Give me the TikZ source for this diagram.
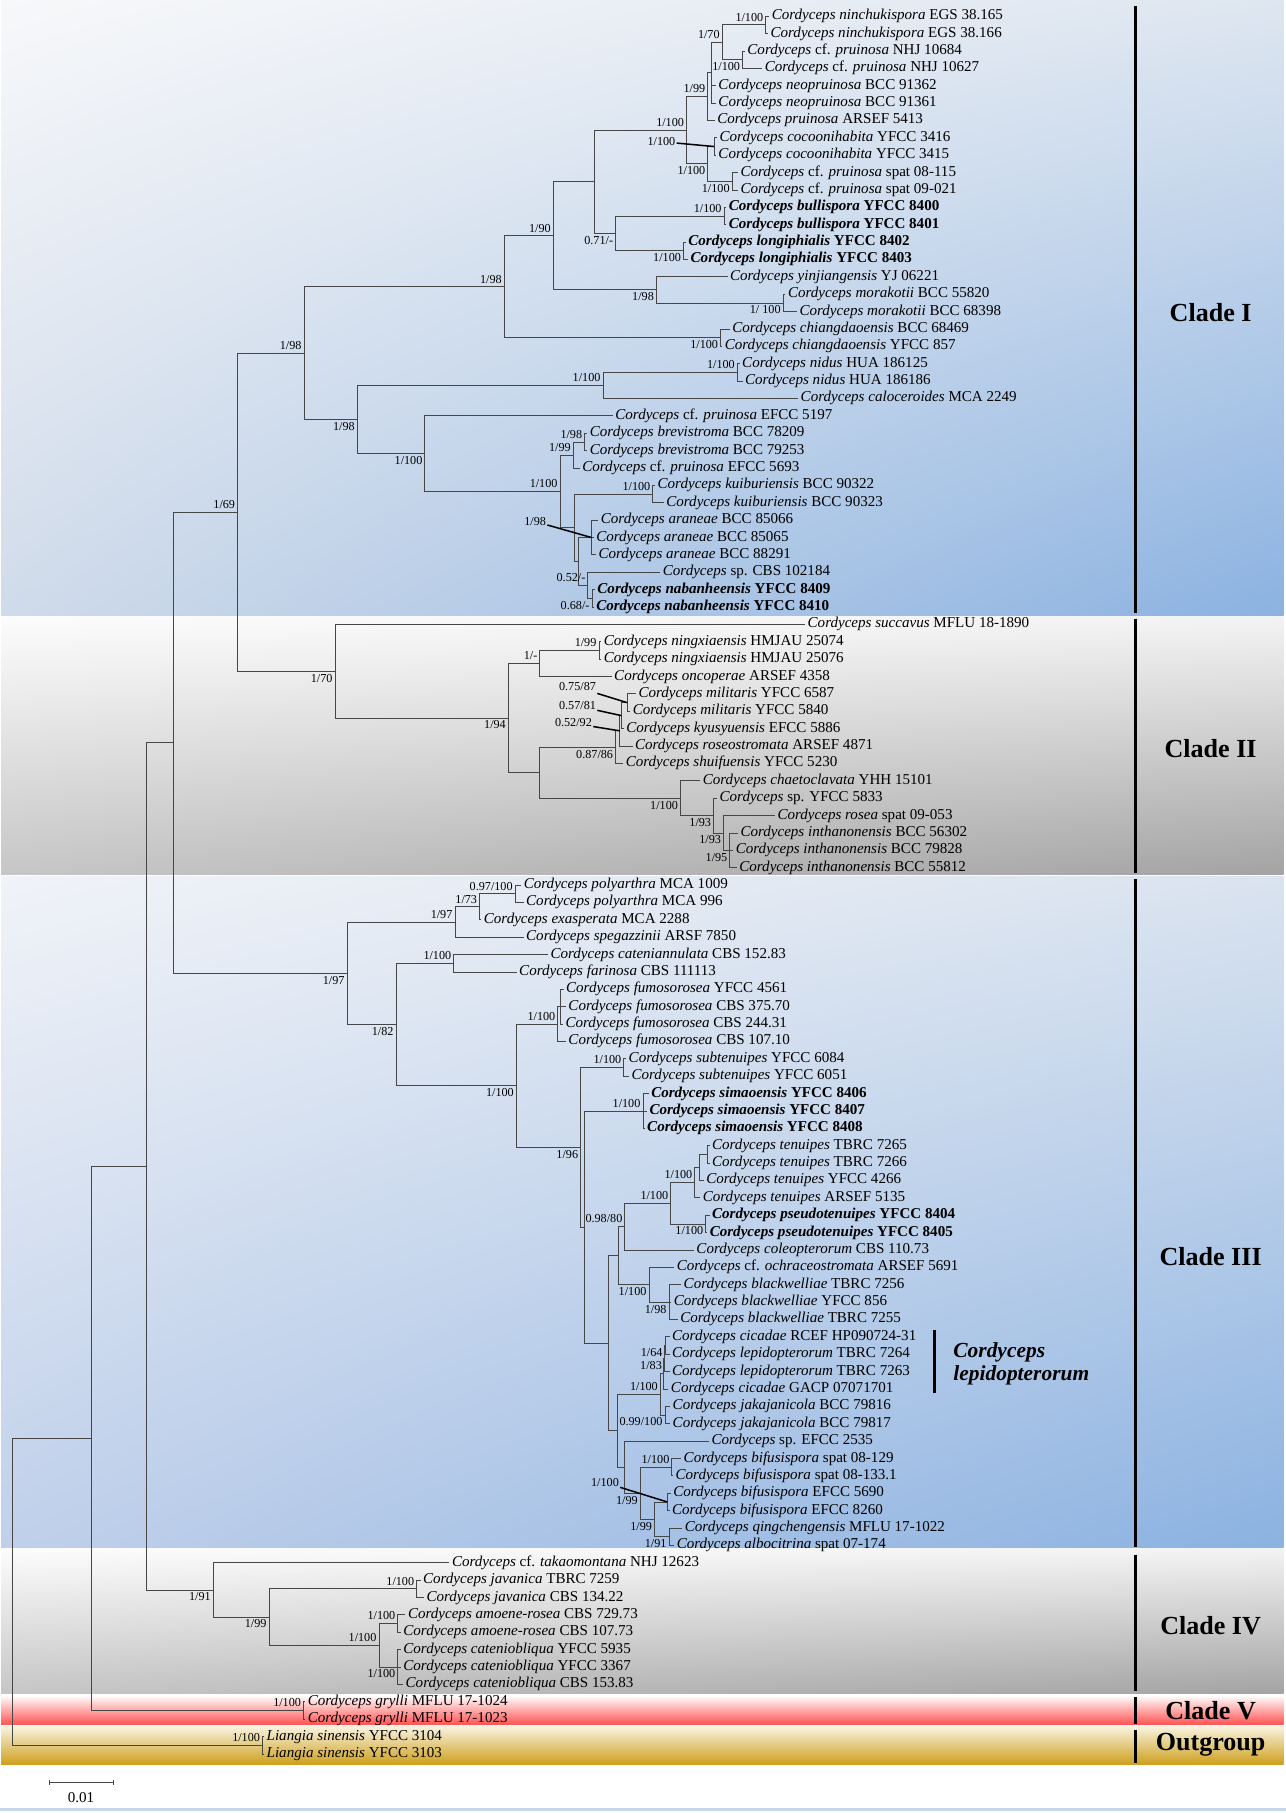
\documentclass[tikz,border=0pt]{standalone}
\usepackage{fontspec}
\setmainfont{Liberation Serif}
\usepackage{tikz}
\usetikzlibrary{calc,shadings}
\definecolor{brgray}{RGB}{70,70,70}
\definecolor{cIul}{RGB}{247,248,250}
\definecolor{cIur}{RGB}{222,230,240}
\definecolor{cIll}{RGB}{208,219,234}
\definecolor{cIlr}{RGB}{139,178,225}
\definecolor{cIIIul}{RGB}{240,243,248}
\definecolor{cIIIur}{RGB}{218,227,239}
\definecolor{cIIIll}{RGB}{192,208,234}
\definecolor{cIIIlr}{RGB}{139,178,225}
\definecolor{grayul}{RGB}{252,252,252}
\definecolor{grayur}{RGB}{243,243,243}
\definecolor{grayll}{RGB}{198,198,198}
\definecolor{graylr}{RGB}{163,163,163}
\definecolor{redBot}{RGB}{255,80,80}
\definecolor{goldTop}{RGB}{248,242,222}
\definecolor{goldBot}{RGB}{206,160,30}
\definecolor{rulecol}{RGB}{200,214,234}
\tikzstyle{branch} = [line width=0.75pt, color=brgray]
\tikzstyle{pointer} = [line width=1.3pt, color=black]
\tikzstyle{taxon} = [anchor=west, inner xsep=2pt, inner ysep=0pt, text height=9pt, text depth=3pt, font=\fontsize{13}{13}\selectfont]
\tikzstyle{supval} = [inner sep=1pt, text height=7.2pt, text depth=1pt, font=\fontsize{10.5}{10.5}\selectfont]
\tikzstyle{supa} = [supval, anchor=south east, xshift=-1pt, yshift=1pt]
\tikzstyle{supb} = [supval, anchor=north east, xshift=-1pt, yshift=-1pt]
\tikzstyle{cladebar} = [line width=2.6pt, color=black]
\tikzstyle{cladename} = [font=\fontsize{22.5}{22.5}\selectfont\bfseries]
% internal node: name, x, first child, last child
\newcommand{\inode}[4]{\path let \p1=(#3), \p2=(#4) in coordinate (#1) at (#2pt,{0.5*\y1+0.5*\y2});}

\begin{document}
\begin{tikzpicture}[x=1pt, y=-1pt]
\useasboundingbox (0,0) rectangle (1110,1565);
\fill[white] (0,0) rectangle (1110,1565);

% Clade backgrounds
\shade[upper left=cIul, upper right=cIur, lower left=cIll, lower right=cIlr] (1,0) rectangle (1108,531);
\shade[upper left=grayul, upper right=grayur, lower left=grayll, lower right=graylr] (1,532.5) rectangle (1108,755);
\shade[upper left=cIIIul, upper right=cIIIur, lower left=cIIIll, lower right=cIIIlr] (1,756.5) rectangle (1108,1335.5);
\shade[upper left=grayul, upper right=grayur, lower left=grayll, lower right=graylr] (1,1337) rectangle (1108,1462);
\shade[top color=white, bottom color=redBot] (1,1463.5) rectangle (1108,1489);
\shade[top color=goldTop, bottom color=goldBot] (1,1490.5) rectangle (1108,1523);
\fill[rulecol] (0,1561) rectangle (1110,1563.5);

% Clade bars and names
\draw[cladebar] (980,5) -- (980,529);
\draw[cladebar] (980,534) -- (980,754);
\draw[cladebar] (980,759) -- (980,1335);
\draw[cladebar] (980,1342) -- (980,1460);
\draw[cladebar] (980,1465) -- (980,1488);
\draw[cladebar] (980,1493) -- (980,1522);
\node[cladename] (cI) at (1045,270) {Clade I};
\node[cladename] (cII) at (1045,646) {Clade II};
\node[cladename] (cIII) at (1045,1085) {Clade III};
\node[cladename] (cIV) at (1045,1403) {Clade IV};
\node[cladename] (cV) at (1045,1477) {Clade V};
\node[cladename] (cout) at (1045,1506) {Outgroup};

% Cordyceps lepidopterorum group
\draw[cladebar] (806.4,1148) -- (806.4,1202.6);
\node[anchor=west, align=left, inner sep=0pt, font=\fontsize{18.5}{20}\selectfont\bfseries\itshape] (lepi) at (822.8,1177) {Cordyceps\\lepidopterorum};

% Clade I taxa
\node[taxon] (l1) at (664,14) {\textit{Cordyceps ninchukispora} EGS 38.165};
\node[taxon] (l2) at (663,29) {\textit{Cordyceps ninchukispora} EGS 38.166};
\node[taxon] (l3) at (643,44) {\textit{Cordyceps} cf. \textit{pruinosa} NHJ 10684};
\node[taxon] (l4) at (658,59) {\textit{Cordyceps} cf. \textit{pruinosa} NHJ 10627};
\node[taxon] (l5) at (618,74) {\textit{Cordyceps neopruinosa} BCC 91362};
\node[taxon] (l6) at (618,89) {\textit{Cordyceps neopruinosa} BCC 91361};
\node[taxon] (l7) at (617,104) {\textit{Cordyceps pruinosa} ARSEF 5413};
\node[taxon] (l8) at (619,119) {\textit{Cordyceps cocoonihabita} YFCC 3416};
\node[taxon] (l9) at (618,134) {\textit{Cordyceps cocoonihabita} YFCC 3415};
\node[taxon] (l10) at (637,149) {\textit{Cordyceps} cf. \textit{pruinosa} spat 08-115};
\node[taxon] (l11) at (637,164) {\textit{Cordyceps} cf. \textit{pruinosa} spat 09-021};
\node[taxon] (l12) at (627,179) {\bfseries\textit{Cordyceps bullispora} YFCC 8400};
\node[taxon] (l13) at (627,194) {\bfseries\textit{Cordyceps bullispora} YFCC 8401};
\node[taxon] (l14) at (592,209) {\bfseries\textit{Cordyceps longiphialis} YFCC 8402};
\node[taxon] (l15) at (594,224) {\bfseries\textit{Cordyceps longiphialis} YFCC 8403};
\node[taxon] (l16) at (628,239) {\textit{Cordyceps yinjiangensis} YJ 06221};
\node[taxon] (l17) at (678,254) {\textit{Cordyceps morakotii} BCC 55820};
\node[taxon] (l18) at (688,269) {\textit{Cordyceps morakotii} BCC 68398};
\node[taxon] (l19) at (630,284) {\textit{Cordyceps chiangdaoensis} BCC 68469};
\node[taxon] (l20) at (623.5,299) {\textit{Cordyceps chiangdaoensis} YFCC 857};
\node[taxon] (l21) at (638.5,314) {\textit{Cordyceps nidus} HUA 186125};
\node[taxon] (l22) at (641,329) {\textit{Cordyceps nidus} HUA 186186};
\node[taxon] (l23) at (689,344) {\textit{Cordyceps caloceroides} MCA 2249};
\node[taxon] (l24) at (529,359) {\textit{Cordyceps} cf. \textit{pruinosa} EFCC 5197};
\node[taxon] (l25) at (507,374) {\textit{Cordyceps brevistroma} BCC 78209};
\node[taxon] (l26) at (507,389) {\textit{Cordyceps brevistroma} BCC 79253};
\node[taxon] (l27) at (500.5,404) {\textit{Cordyceps} cf. \textit{pruinosa} EFCC 5693};
\node[taxon] (l28) at (565.5,419) {\textit{Cordyceps kuiburiensis} BCC 90322};
\node[taxon] (l29) at (573,434) {\textit{Cordyceps kuiburiensis} BCC 90323};
\node[taxon] (l30) at (516.5,449) {\textit{Cordyceps araneae} BCC 85066};
\node[taxon] (l31) at (512.5,464) {\textit{Cordyceps araneae} BCC 85065};
\node[taxon] (l32) at (514.5,479) {\textit{Cordyceps araneae} BCC 88291};
\node[taxon] (l33) at (570,494) {\textit{Cordyceps} sp. CBS 102184};
\node[taxon] (l34) at (513.5,509) {\bfseries\textit{Cordyceps nabanheensis} YFCC 8409};
\node[taxon] (l35) at (512.5,524) {\bfseries\textit{Cordyceps nabanheensis} YFCC 8410};

% Clade II taxa
\node[taxon] (l36) at (695,539) {\textit{Cordyceps succavus} MFLU 18-1890};
\node[taxon] (l37) at (519,554) {\textit{Cordyceps ningxiaensis} HMJAU 25074};
\node[taxon] (l38) at (519,569) {\textit{Cordyceps ningxiaensis} HMJAU 25076};
\node[taxon] (l39) at (528,584) {\textit{Cordyceps oncoperae} ARSEF 4358};
\node[taxon] (l40) at (549,599) {\textit{Cordyceps militaris} YFCC 6587};
\node[taxon] (l41) at (544,614) {\textit{Cordyceps militaris} YFCC 5840};
\node[taxon] (l42) at (538.5,629) {\textit{Cordyceps kyusyuensis} EFCC 5886};
\node[taxon] (l43) at (546,644) {\textit{Cordyceps roseostromata} ARSEF 4871};
\node[taxon] (l44) at (538,659) {\textit{Cordyceps shuifuensis} YFCC 5230};
\node[taxon] (l45) at (604.5,674) {\textit{Cordyceps chaetoclavata} YHH 15101};
\node[taxon] (l46) at (619,689) {\textit{Cordyceps} sp. YFCC 5833};
\node[taxon] (l47) at (669,704) {\textit{Cordyceps rosea} spat 09-053};
\node[taxon] (l48) at (637,719) {\textit{Cordyceps inthanonensis} BCC 56302};
\node[taxon] (l49) at (633,734) {\textit{Cordyceps inthanonensis} BCC 79828};
\node[taxon] (l50) at (636,749) {\textit{Cordyceps inthanonensis} BCC 55812};

% Clade III taxa
\node[taxon] (l51) at (450,764) {\textit{Cordyceps polyarthra} MCA 1009};
\node[taxon] (l52) at (452,779) {\textit{Cordyceps polyarthra} MCA 996};
\node[taxon] (l53) at (415.5,794) {\textit{Cordyceps exasperata} MCA 2288};
\node[taxon] (l54) at (452,809) {\textit{Cordyceps spegazzinii} ARSF 7850};
\node[taxon] (l55) at (473,824) {\textit{Cordyceps cateniannulata} CBS 152.83};
\node[taxon] (l56) at (446,839) {\textit{Cordyceps farinosa} CBS 111113};
\node[taxon] (l57) at (486.5,854) {\textit{Cordyceps fumosorosea} YFCC 4561};
\node[taxon] (l58) at (488.5,869) {\textit{Cordyceps fumosorosea} CBS 375.70};
\node[taxon] (l59) at (486,884) {\textit{Cordyceps fumosorosea} CBS 244.31};
\node[taxon] (l60) at (488.5,899) {\textit{Cordyceps fumosorosea} CBS 107.10};
\node[taxon] (l61) at (540.5,914) {\textit{Cordyceps subtenuipes} YFCC 6084};
\node[taxon] (l62) at (543,929) {\textit{Cordyceps subtenuipes} YFCC 6051};
\node[taxon] (l63) at (560,944) {\bfseries\textit{Cordyceps simaoensis} YFCC 8406};
\node[taxon] (l64) at (558.5,959) {\bfseries\textit{Cordyceps simaoensis} YFCC 8407};
\node[taxon] (l65) at (556.5,974) {\bfseries\textit{Cordyceps simaoensis} YFCC 8408};
\node[taxon] (l66) at (612.5,989) {\textit{Cordyceps tenuipes} TBRC 7265};
\node[taxon] (l67) at (612.5,1004) {\textit{Cordyceps tenuipes} TBRC 7266};
\node[taxon] (l68) at (607.5,1019) {\textit{Cordyceps tenuipes} YFCC 4266};
\node[taxon] (l69) at (604.5,1034) {\textit{Cordyceps tenuipes} ARSEF 5135};
\node[taxon] (l70) at (612.5,1049) {\bfseries\textit{Cordyceps pseudotenuipes} YFCC 8404};
\node[taxon] (l71) at (610.5,1064) {\bfseries\textit{Cordyceps pseudotenuipes} YFCC 8405};
\node[taxon] (l72) at (599,1079) {\textit{Cordyceps coleopterorum} CBS 110.73};
\node[taxon] (l73) at (582,1094) {\textit{Cordyceps} cf. \textit{ochraceostromata} ARSEF 5691};
\node[taxon] (l74) at (588,1109) {\textit{Cordyceps blackwelliae} TBRC 7256};
\node[taxon] (l75) at (579.5,1124) {\textit{Cordyceps blackwelliae} YFCC 856};
\node[taxon] (l76) at (585,1139) {\textit{Cordyceps blackwelliae} TBRC 7255};
\node[taxon] (l77) at (578,1154) {\textit{Cordyceps cicadae} RCEF HP090724-31};
\node[taxon] (l78) at (578,1169) {\textit{Cordyceps lepidopterorum} TBRC 7264};
\node[taxon] (l79) at (578,1184) {\textit{Cordyceps lepidopterorum} TBRC 7263};
\node[taxon] (l80) at (577,1199) {\textit{Cordyceps cicadae} GACP 07071701};
\node[taxon] (l81) at (578.5,1214) {\textit{Cordyceps jakajanicola} BCC 79816};
\node[taxon] (l82) at (578.5,1229) {\textit{Cordyceps jakajanicola} BCC 79817};
\node[taxon] (l83) at (612,1244) {\textit{Cordyceps} sp. EFCC 2535};
\node[taxon] (l84) at (588,1259) {\textit{Cordyceps bifusispora} spat 08-129};
\node[taxon] (l85) at (581,1274) {\textit{Cordyceps bifusispora} spat 08-133.1};
\node[taxon] (l86) at (579,1289) {\textit{Cordyceps bifusispora} EFCC 5690};
\node[taxon] (l87) at (578,1304) {\textit{Cordyceps bifusispora} EFCC 8260};
\node[taxon] (l88) at (589,1319) {\textit{Cordyceps qingchengensis} MFLU 17-1022};
\node[taxon] (l89) at (582,1334) {\textit{Cordyceps albocitrina} spat 07-174};

% Clade IV, Clade V and outgroup taxa
\node[taxon] (l90) at (388,1349) {\textit{Cordyceps} cf. \textit{takaomontana} NHJ 12623};
\node[taxon] (l91) at (363,1364) {\textit{Cordyceps javanica} TBRC 7259};
\node[taxon] (l92) at (366,1379) {\textit{Cordyceps javanica} CBS 134.22};
\node[taxon] (l93) at (350,1394) {\textit{Cordyceps amoene-rosea} CBS 729.73};
\node[taxon] (l94) at (346,1409) {\textit{Cordyceps amoene-rosea} CBS 107.73};
\node[taxon] (l95) at (346,1424) {\textit{Cordyceps cateniobliqua} YFCC 5935};
\node[taxon] (l96) at (346,1439) {\textit{Cordyceps cateniobliqua} YFCC 3367};
\node[taxon] (l97) at (348,1454) {\textit{Cordyceps cateniobliqua} CBS 153.83};
\node[taxon] (l98) at (263.5,1469) {\textit{Cordyceps grylli} MFLU 17-1024};
\node[taxon] (l99) at (263.5,1484) {\textit{Cordyceps grylli} MFLU 17-1023};
\node[taxon] (l100) at (228,1499) {\textit{Liangia sinensis} YFCC 3104};
\node[taxon] (l101) at (228,1514) {\textit{Liangia sinensis} YFCC 3103};

% Internal nodes, Clade I
\inode{n1}{661}{l1}{l2}
\inode{n2}{641}{l3}{l4}
\inode{n3}{623.4}{n1}{n2}
\inode{n4a}{614}{n3}{l6}
\inode{n4}{611}{n4a}{l7}
\inode{n5}{616.5}{l8}{l9}
\inode{n6}{632}{l10}{l11}
\inode{n7}{611}{n5}{n6}
\inode{n8}{592.6}{n4}{n7}
\inode{n9}{625}{l12}{l13}
\inode{n10}{590}{l14}{l15}
\inode{n11}{531.4}{n9}{n10}
\inode{n12}{513}{n8}{n11}
\inode{n13}{676}{l17}{l18}
\inode{n14}{566.6}{l16}{n13}
\inode{n15}{477.6}{n12}{n14}
\inode{n16}{622}{l19}{l20}
\inode{n17}{435.3}{n15}{n16}
\inode{n18}{636.5}{l21}{l22}
\inode{n19}{520.5}{n18}{l23}
\inode{n20}{504.7}{l25}{l26}
\inode{n21}{494.8}{n20}{l27}
\inode{n22}{563.5}{l28}{l29}
\inode{n23}{510.6}{l30}{l32}
\inode{n24}{511}{l34}{l35}
\inode{n25}{507.5}{l33}{n24}
\inode{n26}{499.2}{n23}{n25}
\inode{n27}{495.8}{n22}{n26}
\inode{n28}{483.4}{n21}{n27}
\inode{n29}{366.8}{l24}{n28}
\inode{n30}{308.4}{n19}{n29}
\inode{n31}{262.4}{n17}{n30}
% Clade II
\inode{n32}{517}{l37}{l38}
\inode{n33}{466}{n32}{l39}
\inode{n34}{541.3}{l40}{l41}
\inode{n35}{536.5}{n34}{l42}
\inode{n36}{535}{n35}{l43}
\inode{n37}{531.4}{n36}{l44}
\inode{n39}{630}{l48}{l50}
\inode{n40}{624.6}{l47}{n39}
\inode{n41}{616}{l46}{n40}
\inode{n42}{587.4}{l45}{n41}
\inode{n43}{466}{n37}{n42}
\inode{n44}{438.8}{n33}{n43}
\inode{n45}{289.2}{l36}{n44}
\inode{n46}{205.1}{n31}{n45}
% Clade III
\inode{n47}{444.7}{l51}{l52}
\inode{n48}{414}{n47}{l53}
\inode{n49}{392.7}{n48}{l54}
\inode{n50}{391.7}{l55}{l56}
\inode{f1}{484}{l57}{l59}
\inode{n51}{481.5}{f1}{l60}
\inode{n52}{538.5}{l61}{l62}
\inode{n53}{555}{l63}{l65}
\inode{n54}{610.5}{l66}{l67}
\inode{n55}{604}{n54}{l68}
\inode{n56}{599.8}{n55}{l69}
\inode{n57}{609.2}{l70}{l71}
\inode{n58}{579}{n56}{n57}
\inode{n59}{539.4}{n58}{l72}
\inode{n60}{577.5}{l74}{l76}
\inode{n61}{560.2}{l73}{n60}
\inode{n62}{533.5}{n59}{n61}
\inode{n63}{574}{l77}{l78}
\inode{n64}{573.5}{n63}{l79}
\inode{n65}{573}{n64}{l80}
\inode{n66}{574}{l81}{l82}
\inode{n67}{570}{n65}{n66}
\inode{n68}{580}{l84}{l85}
\inode{n69}{576}{l86}{l87}
\inode{n70}{577.5}{l88}{l89}
\inode{n71}{565}{n69}{n70}
\inode{n72}{552.7}{n68}{n71}
\inode{n73}{538.8}{l83}{n72}
\inode{n74}{532.9}{n67}{n73}
\inode{n75}{525.5}{n62}{n74}
\inode{n76}{504.8}{n53}{n75}
\inode{n77}{501.2}{n52}{n76}
\inode{n78}{445.7}{n51}{n77}
\inode{n79}{341.9}{n50}{n78}
\inode{n80}{299.6}{n49}{n79}
\inode{n81}{149.9}{n46}{n80}
% Clade IV, V, outgroup and root
\inode{n82}{359.7}{l91}{l92}
\inode{n83}{343.4}{l93}{l94}
\inode{n84}{343.4}{l95}{l97}
\inode{n85}{327.1}{n83}{n84}
\inode{n86}{232.2}{n82}{n85}
\inode{n87}{184.1}{l90}{n86}
\inode{n88}{126.4}{n81}{n87}
\inode{n89}{262}{l98}{l99}
\inode{n90}{78.8}{n88}{n89}
\inode{n91}{226.6}{l100}{l101}
\inode{n92}{10.7}{n90}{n91}

% Branches
\draw[branch] (n1) |- (l1) (n1) |- (l2);
\draw[branch] (n2) |- (l3) (n2) |- (l4);
\draw[branch] (n3) |- (n1) (n3) |- (n2);
\draw[branch] (n4a) |- (n3) (n4a) |- (l5) (n4a) |- (l6);
\draw[branch] (n4) |- (n4a) (n4) |- (l7);
\draw[branch] (n5) |- (l8) (n5) |- (l9);
\draw[branch] (n6) |- (l10) (n6) |- (l11);
\draw[branch] (n7) |- (n5) (n7) |- (n6);
\draw[branch] (n8) |- (n4) (n8) |- (n7);
\draw[branch] (n9) |- (l12) (n9) |- (l13);
\draw[branch] (n10) |- (l14) (n10) |- (l15);
\draw[branch] (n11) |- (n9) (n11) |- (n10);
\draw[branch] (n12) |- (n8) (n12) |- (n11);
\draw[branch] (n13) |- (l17) (n13) |- (l18);
\draw[branch] (n14) |- (l16) (n14) |- (n13);
\draw[branch] (n15) |- (n12) (n15) |- (n14);
\draw[branch] (n16) |- (l19) (n16) |- (l20);
\draw[branch] (n17) |- (n15) (n17) |- (n16);
\draw[branch] (n18) |- (l21) (n18) |- (l22);
\draw[branch] (n19) |- (n18) (n19) |- (l23);
\draw[branch] (n20) |- (l25) (n20) |- (l26);
\draw[branch] (n21) |- (n20) (n21) |- (l27);
\draw[branch] (n22) |- (l28) (n22) |- (l29);
\draw[branch] (n23) |- (l30) (n23) |- (l31) (n23) |- (l32);
\draw[branch] (n24) |- (l34) (n24) |- (l35);
\draw[branch] (n25) |- (l33) (n25) |- (n24);
\draw[branch] (n26) |- (n23) (n26) |- (n25);
\draw[branch] (n27) |- (n22) (n27) |- (n26);
\draw[branch] (n28) |- (n21) (n28) |- (n27);
\draw[branch] (n29) |- (l24) (n29) |- (n28);
\draw[branch] (n30) |- (n19) (n30) |- (n29);
\draw[branch] (n31) |- (n17) (n31) |- (n30);
\draw[branch] (n32) |- (l37) (n32) |- (l38);
\draw[branch] (n33) |- (n32) (n33) |- (l39);
\draw[branch] (n34) |- (l40) (n34) |- (l41);
\draw[branch] (n35) |- (n34) (n35) |- (l42);
\draw[branch] (n36) |- (n35) (n36) |- (l43);
\draw[branch] (n37) |- (n36) (n37) |- (l44);
\draw[branch] (n39) |- (l48) (n39) |- (l49) (n39) |- (l50);
\draw[branch] (n40) |- (l47) (n40) |- (n39);
\draw[branch] (n41) |- (l46) (n41) |- (n40);
\draw[branch] (n42) |- (l45) (n42) |- (n41);
\draw[branch] (n43) |- (n37) (n43) |- (n42);
\draw[branch] (n44) |- (n33) (n44) |- (n43);
\draw[branch] (n45) |- (l36) (n45) |- (n44);
\draw[branch] (n46) |- (n31) (n46) |- (n45);
\draw[branch] (n47) |- (l51) (n47) |- (l52);
\draw[branch] (n48) |- (n47) (n48) |- (l53);
\draw[branch] (n49) |- (n48) (n49) |- (l54);
\draw[branch] (n50) |- (l55) (n50) |- (l56);
\draw[branch] (f1) |- (l57) (f1) |- (l58) (f1) |- (l59);
\draw[branch] (n51) |- (f1) (n51) |- (l60);
\draw[branch] (n52) |- (l61) (n52) |- (l62);
\draw[branch] (n53) |- (l63) (n53) |- (l64) (n53) |- (l65);
\draw[branch] (n54) |- (l66) (n54) |- (l67);
\draw[branch] (n55) |- (n54) (n55) |- (l68);
\draw[branch] (n56) |- (n55) (n56) |- (l69);
\draw[branch] (n57) |- (l70) (n57) |- (l71);
\draw[branch] (n58) |- (n56) (n58) |- (n57);
\draw[branch] (n59) |- (n58) (n59) |- (l72);
\draw[branch] (n60) |- (l74) (n60) |- (l75) (n60) |- (l76);
\draw[branch] (n61) |- (l73) (n61) |- (n60);
\draw[branch] (n62) |- (n59) (n62) |- (n61);
\draw[branch] (n63) |- (l77) (n63) |- (l78);
\draw[branch] (n64) |- (n63) (n64) |- (l79);
\draw[branch] (n65) |- (n64) (n65) |- (l80);
\draw[branch] (n66) |- (l81) (n66) |- (l82);
\draw[branch] (n67) |- (n65) (n67) |- (n66);
\draw[branch] (n68) |- (l84) (n68) |- (l85);
\draw[branch] (n69) |- (l86) (n69) |- (l87);
\draw[branch] (n70) |- (l88) (n70) |- (l89);
\draw[branch] (n71) |- (n69) (n71) |- (n70);
\draw[branch] (n72) |- (n68) (n72) |- (n71);
\draw[branch] (n73) |- (l83) (n73) |- (n72);
\draw[branch] (n74) |- (n67) (n74) |- (n73);
\draw[branch] (n75) |- (n62) (n75) |- (n74);
\draw[branch] (n76) |- (n53) (n76) |- (n75);
\draw[branch] (n77) |- (n52) (n77) |- (n76);
\draw[branch] (n78) |- (n51) (n78) |- (n77);
\draw[branch] (n79) |- (n50) (n79) |- (n78);
\draw[branch] (n80) |- (n49) (n80) |- (n79);
\draw[branch] (n81) |- (n46) (n81) |- (n80);
\draw[branch] (n82) |- (l91) (n82) |- (l92);
\draw[branch] (n83) |- (l93) (n83) |- (l94);
\draw[branch] (n84) |- (l95) (n84) |- (l96) (n84) |- (l97);
\draw[branch] (n85) |- (n83) (n85) |- (n84);
\draw[branch] (n86) |- (n82) (n86) |- (n85);
\draw[branch] (n87) |- (l90) (n87) |- (n86);
\draw[branch] (n88) |- (n81) (n88) |- (n87);
\draw[branch] (n89) |- (l98) (n89) |- (l99);
\draw[branch] (n90) |- (n88) (n90) |- (n89);
\draw[branch] (n91) |- (l100) (n91) |- (l101);
\draw[branch] (n92) |- (n90) (n92) |- (n91);

% Support values, Clade I
\node[supa] (b1) at (n1) {1/100};
\node[supb] (b2) at (n2) {1/100};
\node[supa] (b3) at (n3) {1/70};
\node[supa] (b4) at (n4) {1/99};
\node[supval, anchor=east] (b5) at (584.1,122.3) {1/100};
\draw[pointer] (b5) -- (n5);
\node[supb] (b6) at (n6) {1/100};
\node[supb] (b7) at (n7) {1/100};
\node[supa] (b8) at (n8) {1/100};
\node[supa] (b9) at (n9) {1/100};
\node[supb] (b10) at (n10) {1/100};
\node[supb] (b11) at (n11) {0.71/-};
\node[supb] (b13) at (n13) {1/ 100};
\node[supb] (b14) at (n14) {1/98};
\node[supa] (b15) at (n15) {1/90};
\node[supb] (b16) at (n16) {1/100};
\node[supa] (b17) at (n17) {1/98};
\node[supa] (b18) at (n18) {1/100};
\node[supa] (b19) at (n19) {1/100};
\node[supa] (b20) at (n20) {1/98};
\node[supa] (b21) at (n21) {1/99};
\node[supa] (b22) at (n22) {1/100};
\node[supval, anchor=east] (b23) at (472.5,450.2) {1/98};
\draw[pointer] (b23) -- (n23);
\node[supb] (b24) at (n24) {0.68/-};
\node[supa] (b25) at (n25) {0.52/-};
\node[supa] (b28) at (n28) {1/100};
\node[supb] (b29) at (n29) {1/100};
\node[supb] (b30) at (n30) {1/98};
\node[supa] (b31) at (n31) {1/98};
% Clade II
\node[supa] (b32) at (n32) {1/99};
\node[supa] (b33) at (n33) {1/-};
\node[supval, anchor=east] (b34) at (515.6,593.3) {0.75/87};
\draw[pointer] (b34) -- (n34);
\node[supval, anchor=east] (b35) at (515.6,609.4) {0.57/81};
\draw[pointer] (b35) -- (n35);
\node[supval, anchor=east] (b36) at (512.1,624.4) {0.52/92};
\draw[pointer] (b36) -- (n36);
\node[supb] (b37) at (n37) {0.87/86};
\node[supb] (b39) at (n39) {1/95};
\node[supb] (b40) at (n40) {1/93};
\node[supb] (b41) at (n41) {1/93};
\node[supb] (b42) at (n42) {1/100};
\node[supb] (b44) at (n44) {1/94};
\node[supb] (b45) at (n45) {1/70};
\node[supa] (b46) at (n46) {1/69};
% Clade III
\node[supa] (b47) at (n47) {0.97/100};
\node[supa] (b48) at (n48) {1/73};
\node[supa] (b49) at (n49) {1/97};
\node[supa] (b50) at (n50) {1/100};
\node[supa] (b51) at (n51) {1/100};
\node[supa] (b52) at (n52) {1/100};
\node[supa] (b53) at (n53) {1/100};
\node[supa] (b56) at (n56) {1/100};
\node[supb] (b57) at (n57) {1/100};
\node[supa] (b58) at (n58) {1/100};
\node[supa] (b59) at (n59) {0.98/80};
\node[supb] (b60) at (n60) {1/98};
\node[supb] (b61) at (n61) {1/100};
\node[supb] (b63) at (n63) {1/64};
\node[supb] (b64) at (n64) {1/83};
\node[supb] (b66) at (n66) {0.99/100};
\node[supa] (b67) at (n67) {1/100};
\node[supa] (b68) at (n68) {1/100};
\node[supval, anchor=east] (b69) at (535.4,1279.8) {1/100};
\draw[pointer] (b69) -- (n69);
\node[supb] (b70) at (n70) {1/91};
\node[supb] (b71) at (n71) {1/99};
\node[supb] (b72) at (n72) {1/99};
\node[supb] (b77) at (n77) {1/96};
\node[supb] (b78) at (n78) {1/100};
\node[supb] (b79) at (n79) {1/82};
\node[supb] (b80) at (n80) {1/97};
% Clade IV, V and outgroup
\node[supa] (b82) at (n82) {1/100};
\node[supa] (b83) at (n83) {1/100};
\node[supb] (b84) at (n84) {1/100};
\node[supa] (b85) at (n85) {1/100};
\node[supb] (b86) at (n86) {1/99};
\node[supb] (b87) at (n87) {1/91};
\node[supa] (b89) at (n89) {1/100};
\node[supa] (b91) at (n91) {1/100};

% Scale bar
\coordinate (sbl) at (42.5,1538.6);
\coordinate (sbr) at (97.7,1538.6);
\draw[branch] (sbl) -- (sbr);
\draw[branch] (sbl) ++(0,-2.5) -- ++(0,5);
\draw[branch] (sbr) ++(0,-2.5) -- ++(0,5);
\node[font=\fontsize{13}{13}\selectfont] (sbtext) at (70,1552) {0.01};
\end{tikzpicture}
\end{document}
